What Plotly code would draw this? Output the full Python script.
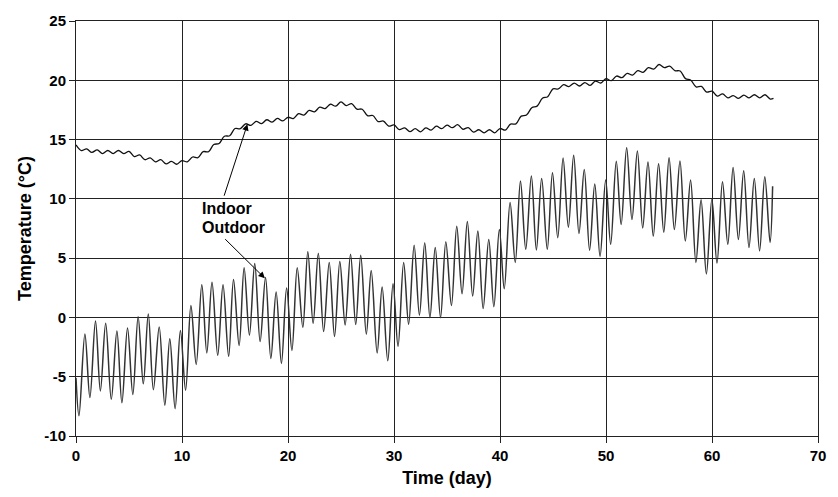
import plotly.graph_objects as go

# Outdoor temperature: daily extrema (day, °C)
outdoor_day = [0.0, 0.28, 0.84, 1.31, 1.84, 2.3, 2.8, 3.33, 3.86, 4.33, 4.86, 5.36, 5.86, 6.35, 6.82,
               7.3, 7.85, 8.38, 8.85, 9.35, 9.85, 10.34, 10.84, 11.34, 11.87, 12.34, 12.83, 13.37,
               13.87, 14.4, 14.86, 15.39, 15.86, 16.36, 16.86, 17.37, 17.88, 18.38, 18.88, 19.38,
               19.87, 20.37, 20.87, 21.4, 21.87, 22.37, 22.86, 23.36, 23.89, 24.39, 24.89, 25.39,
               25.9, 26.39, 26.86, 27.39, 27.85, 28.41, 28.88, 29.41, 29.91, 30.38, 30.91, 31.38,
               31.9, 32.4, 32.9, 33.39, 33.89, 34.39, 34.89, 35.42, 35.92, 36.42, 36.92, 37.42,
               37.91, 38.41, 38.94, 39.42, 39.94, 40.4, 40.95, 41.44, 41.93, 42.43, 42.96, 43.43,
               43.93, 44.46, 44.95, 45.45, 45.95, 46.45, 46.95, 47.45, 47.95, 48.45, 48.94, 49.44,
               49.97, 50.44, 50.97, 51.43, 51.95, 52.45, 52.96, 53.46, 53.96, 54.46, 54.96, 55.45,
               55.95, 56.45, 56.98, 57.48, 57.98, 58.48, 58.97, 59.47, 59.99, 60.47, 60.99, 61.49,
               61.99, 62.49, 62.99, 63.49, 63.99, 64.49, 64.98, 65.48, 65.72]
outdoor_temp = [-5.1, -8.3, -1.4, -6.75, -0.3, -6.2, -0.5, -6.9, -1.15, -7.2, -0.9, -6.5, 0.06, -5.6, 0.28,
                -6.1, -0.8, -7.4, -1.8, -7.7, -1.1, -6.15, 1.0, -3.96, 2.75, -3.0, 2.97, -3.2,
                2.75, -3.27, 3.2, -2.37, 4.2, -1.5, 4.55, -2.03, 3.36, -3.46, 2.14, -3.89,
                2.48, -2.78, 4.2, -0.83, 5.53, -0.5, 5.42, -1.19, 4.64, -1.6, 4.72, -0.63,
                5.33, -0.6, 5.25, -1.41, 3.95, -3.0, 2.56, -3.66, 2.83, -2.44, 4.64, -0.58,
                6.08, 0.19, 6.3, -0.02, 5.89, -0.02, 6.39, 1.0, 7.7, 2.0, 8.1, 1.8,
                7.28, 0.75, 6.58, 0.9, 7.42, 2.42, 9.7, 4.64, 11.5, 5.75, 11.92, 5.69,
                11.72, 5.75, 12.2, 6.72, 13.44, 7.61, 13.67, 7.08, 12.47, 5.67, 11.25, 5.14,
                11.58, 6.17, 13.17, 7.83, 14.31, 8.25, 14.03, 7.55, 13.11, 6.86, 12.97, 7.19,
                13.47, 7.42, 13.19, 6.44, 11.58, 4.64, 9.92, 3.67, 9.97, 4.58, 11.44, 6.17,
                12.64, 6.58, 12.36, 5.89, 11.72, 5.61, 11.86, 6.31, 11.06]

# Indoor temperature read every half day (day, °C)
indoor_day = [0.0, 0.5, 1, 1.5, 2, 2.5, 3, 3.5, 4, 4.5, 5, 5.5, 6, 6.5, 7, 7.5, 8, 8.5, 9, 9.5,
              10, 10.5, 11, 11.5, 12, 12.5, 13, 13.5, 14, 14.5, 15, 15.5, 16, 16.5, 17, 17.5,
              18, 18.5, 19, 19.5, 20, 20.5, 21, 21.5, 22, 22.5, 23, 23.5, 24, 24.5, 25, 25.5,
              26, 26.5, 27, 27.5, 28, 28.5, 29, 29.5, 30, 30.5, 31, 31.5, 32, 32.5, 33, 33.5,
              34, 34.5, 35, 35.5, 36, 36.5, 37, 37.5, 38, 38.5, 39, 39.5, 40, 40.5, 41, 41.5,
              42, 42.5, 43, 43.5, 44, 44.5, 45, 45.5, 46, 46.5, 47, 47.5, 48, 48.5, 49, 49.5,
              50, 50.5, 51, 51.5, 52, 52.5, 53, 53.5, 54, 54.5, 55, 55.5, 56, 56.5, 57, 57.5,
              58, 58.5, 59, 59.5, 60, 60.5, 61, 61.5, 62, 62.5, 63, 63.5, 64, 64.5, 65, 65.5, 65.8]
indoor_temp = [14.55, 14.07, 14.21, 13.92, 14.13, 13.82, 14.08, 13.82, 14.08, 13.82, 14.0, 13.57,
               13.7, 13.3, 13.46, 13.12, 13.3, 12.95, 13.16, 12.92, 13.23, 13.12, 13.53, 13.47,
               13.98, 13.97, 14.58, 14.67, 15.28, 15.32, 15.93, 15.92, 16.33, 16.2, 16.53, 16.34,
               16.67, 16.47, 16.78, 16.57, 16.88, 16.77, 17.18, 17.07, 17.46, 17.34, 17.73, 17.62,
               17.98, 17.82, 18.18, 17.87, 18.03, 17.57, 17.56, 17.02, 17.03, 16.52, 16.56, 16.14,
               16.23, 15.84, 15.98, 15.67, 15.92, 15.65, 15.98, 15.8, 16.13, 15.92, 16.22, 16.0,
               16.26, 15.87, 16.01, 15.63, 15.83, 15.57, 15.83, 15.57, 15.93, 15.8, 16.3, 16.32,
               16.98, 17.07, 17.68, 17.82, 18.48, 18.62, 19.28, 19.27, 19.63, 19.47, 19.76, 19.52,
               19.81, 19.57, 19.93, 19.77, 20.13, 19.97, 20.36, 20.22, 20.58, 20.44, 20.81, 20.67,
               21.06, 20.94, 21.33, 21.07, 21.2, 20.82, 20.78, 20.14, 20.01, 19.44, 19.48, 19.0,
               19.08, 18.67, 18.85, 18.52, 18.71, 18.47, 18.75, 18.51, 18.78, 18.52, 18.78, 18.42, 18.48]

x_ticks = [0, 10, 20, 30, 40, 50, 60, 70]
y_ticks = [-10, -5, 0, 5, 10, 15, 20, 25]

FONT = "Arial, Liberation Sans, sans-serif"

fig = go.Figure()
fig.add_trace(go.Scatter(x=outdoor_day, y=outdoor_temp, mode="lines", name="Outdoor",
                         line=dict(color="#333333", width=1.5, shape="spline", smoothing=1.0)))
fig.add_trace(go.Scatter(x=indoor_day, y=indoor_temp, mode="lines", name="Indoor",
                         line=dict(color="#111111", width=1.3, shape="spline", smoothing=1.0)))

fig.add_annotation(x=11.7, y=9.2, text="<b>Indoor</b>", showarrow=False, xanchor="left",
                   yanchor="middle", font=dict(family=FONT, size=16, color="#000"))
fig.add_annotation(x=11.7, y=7.6, text="<b>Outdoor</b>", showarrow=False, xanchor="left",
                   yanchor="middle", font=dict(family=FONT, size=16, color="#000"))
fig.add_annotation(x=16.17, y=16.3, ax=13.93, ay=10.14, axref="x", ayref="y", text="",
                   showarrow=True, arrowhead=2, arrowsize=1.3, arrowwidth=1, arrowcolor="#000")
fig.add_annotation(x=17.82, y=3.3, ax=13.93, ay=6.73, axref="x", ayref="y", text="",
                   showarrow=True, arrowhead=2, arrowsize=1.3, arrowwidth=1, arrowcolor="#000")

fig.update_layout(
    width=838, height=497,
    margin=dict(l=76, r=14, t=17, b=61),
    paper_bgcolor="white", plot_bgcolor="white",
    showlegend=False,
    font=dict(family=FONT, size=15, color="#000"),
)
fig.update_xaxes(range=[0, 70], tickvals=x_ticks, ticktext=[f"<b>{v}</b>" for v in x_ticks],
                 showgrid=True, gridcolor="#222", gridwidth=1, zeroline=False,
                 showline=True, linecolor="#222", linewidth=1, mirror=True,
                 ticks="outside", ticklen=6, tickcolor="#222",
                 title=dict(text="<b>Time (day)</b>", font=dict(size=18), standoff=8))
fig.update_yaxes(range=[-10, 25], tickvals=y_ticks, ticktext=[f"<b>{v}</b>" for v in y_ticks],
                 showgrid=True, gridcolor="#222", gridwidth=1, zeroline=False,
                 showline=True, linecolor="#222", linewidth=1, mirror=True,
                 ticks="outside", ticklen=6, tickcolor="#222",
                 title=dict(text="<b>Temperature (°C)</b>", font=dict(size=18), standoff=8))

fig.write_html("out.html")
